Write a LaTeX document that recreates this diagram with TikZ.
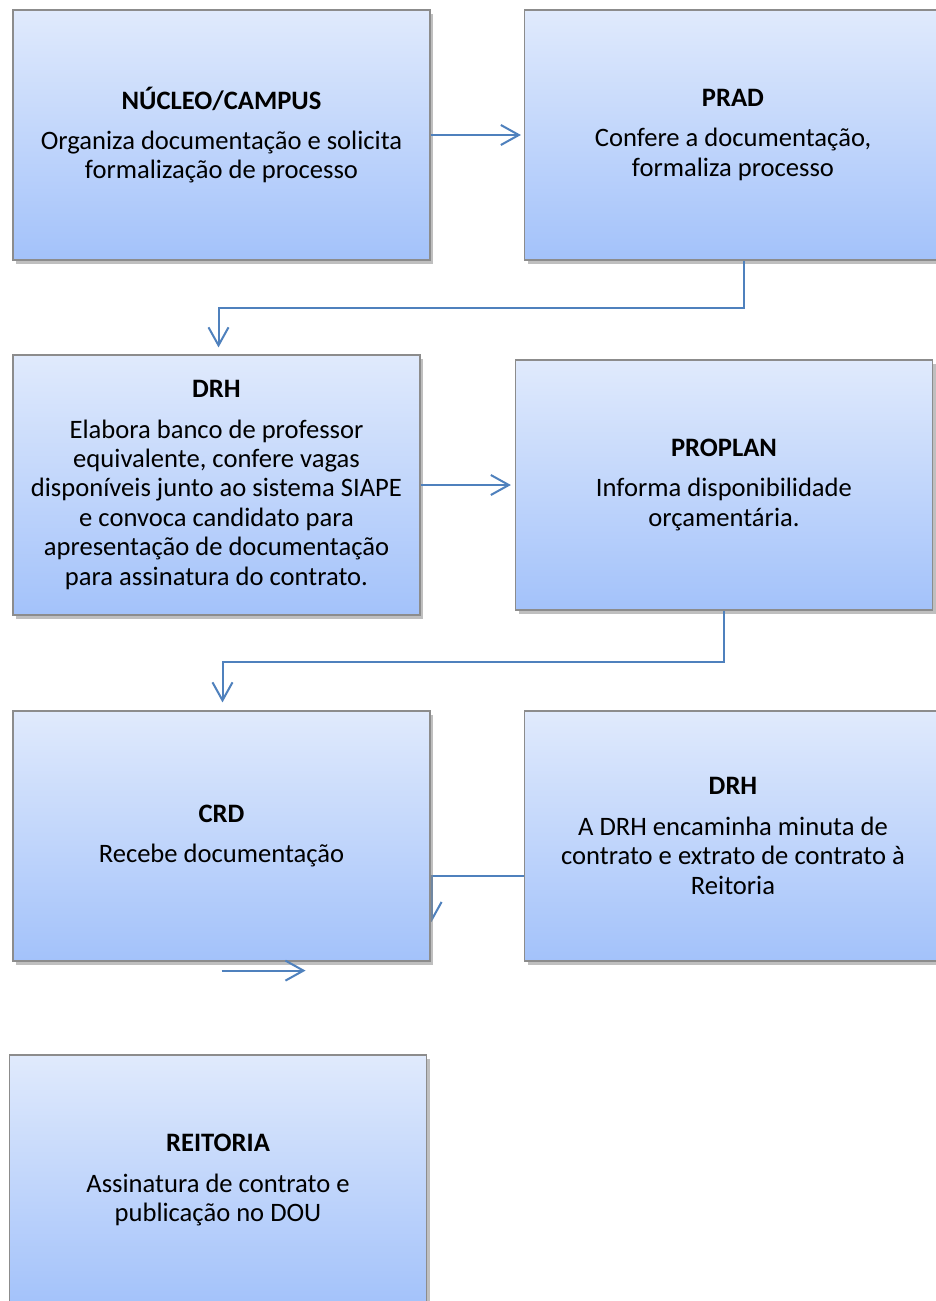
\documentclass[tikz,border=0pt]{standalone}
\usepackage{fontspec}
\setmainfont{Carlito}
\usetikzlibrary{arrows.meta, positioning, calc, backgrounds, shadows}
\definecolor{boxtop}{HTML}{E0EAFC}
\definecolor{boxbot}{HTML}{A3C2FA}
\definecolor{boxedge}{HTML}{8C8C8C}
\definecolor{flow}{HTML}{4F81BD}

\begin{document}
\begin{tikzpicture}[x=0.5pt, y=-0.5pt,
  stepbox/.style={
    draw=boxedge, line width=0.6pt, top color=boxtop, bottom color=boxbot,
    minimum width=208.5pt, minimum height=125pt, inner sep=0pt,
    align=center, font=\fontsize{13.3pt}{14.7pt}\selectfont,
    drop shadow={shadow xshift=1.5pt, shadow yshift=-1.8pt,
                 fill=black!45, opacity=0.55}
  },
  flowarr/.style={-{Straight Barb[length=9pt, width=10pt]},
    draw=flow, line width=1pt},
]
\useasboundingbox (0,0) rectangle (936,1301);
\node[stepbox] (nucleo) at (221.5, 135)
  {\textbf{NÚCLEO/CAMPUS}\\[5.5pt]Organiza documentação e solicita\\formalização de processo};
\node[stepbox] (prad) at (733, 135)
  {\textbf{PRAD}\\[5.5pt]Confere a documentação,\\formaliza processo};
\node[stepbox, minimum width=203.5pt, minimum height=130pt] (drh) at (216.5, 485)
  {\textbf{DRH}\\[5.5pt]Elabora banco de professor\\equivalente, confere vagas\\disponíveis junto ao sistema SIAPE\\e convoca candidato para\\apresentação de documentação\\para assinatura do contrato.};
\node[stepbox] (proplan) at (724, 485)
  {\textbf{PROPLAN}\\[5.5pt]Informa disponibilidade\\orçamentária.};
\node[stepbox] (crd) at (221.5, 836)
  {\textbf{CRD}\\[5.5pt]Recebe documentação};
\node[stepbox] (drhb) at (733, 836)
  {\textbf{DRH}\\[5.5pt]A DRH encaminha minuta de\\contrato e extrato de contrato à\\Reitoria};
\node[stepbox] (reitoria) at (218, 1180)
  {\textbf{REITORIA}\\[5.5pt]Assinatura de contrato e\\publicação no DOU};

\draw[flowarr, shorten >=1.5pt] (nucleo.east) -- (prad.west);
\draw[flowarr, shorten >=3.5pt] ([xshift=5.5pt]prad.south) -- ++(0,-23.5pt)
  -| ([xshift=1pt]drh.north);
\draw[flowarr, shorten >=2pt] (drh.east) -- (proplan.west);
\draw[flowarr, shorten >=4pt] (proplan.south) -- ++(0,-25.5pt)
  -| ([xshift=0.5pt]crd.north);
\begin{scope}[on background layer]
  \fill[white] (0,0) rectangle (936,1301);
  \draw[flowarr] ([yshift=-20pt]drhb.west) -| ([xshift=0.5pt, yshift=-43pt]crd.east);
\end{scope}
\coordinate (crdout) at ([yshift=-4.5pt]crd.south);
\draw[flowarr] (crdout) -- ++(42pt,0);
\end{tikzpicture}
\end{document}
